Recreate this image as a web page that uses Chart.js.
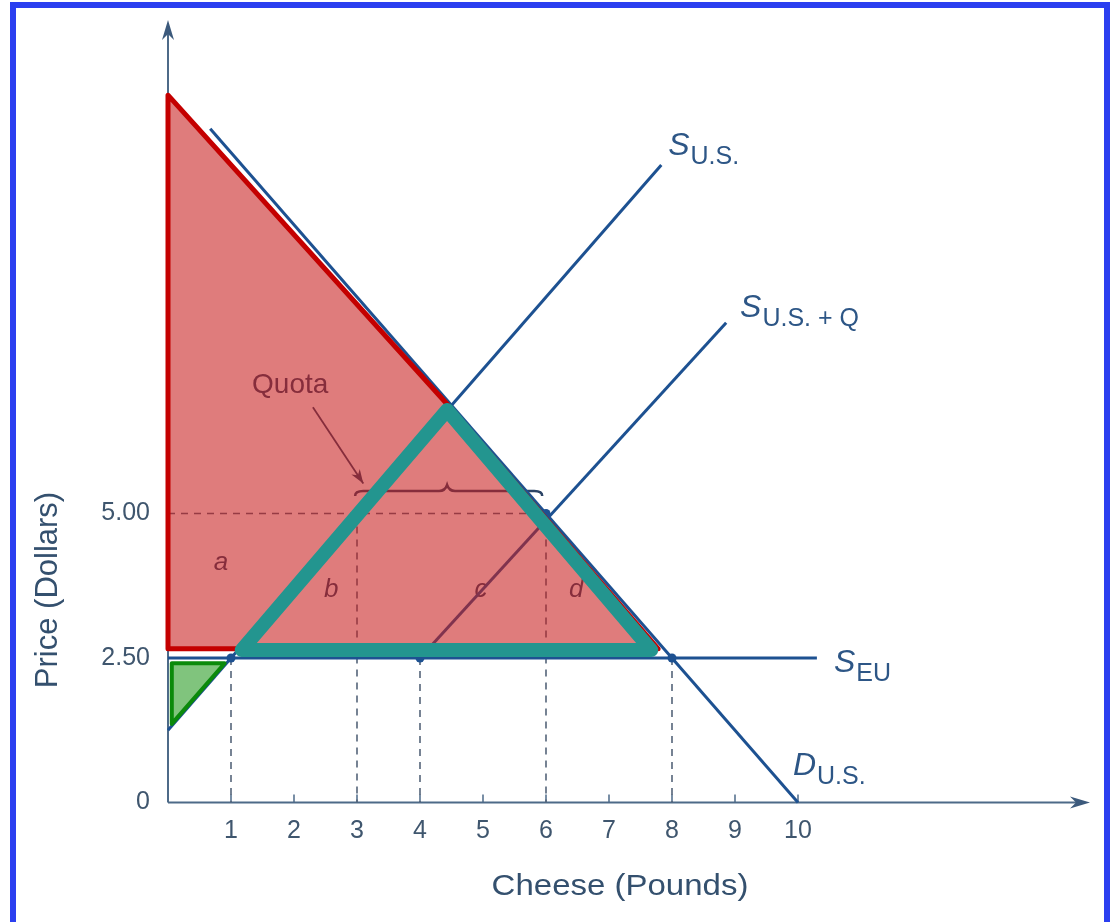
<!DOCTYPE html>
<html>
<head>
<meta charset="utf-8">
<title>Cheese import quota</title>
<script src="https://cdn.jsdelivr.net/npm/chart.js"></script>
<style>
  html, body { margin: 0; padding: 0; background: #fff; }
  canvas { display: block; }
</style>
</head>
<body>
<canvas id="myChart" width="1111" height="922"></canvas>

<script>
// axis ticks
var xTicks = [1, 2, 3, 4, 5, 6, 7, 8, 9, 10];
var xTickLabels = ['1', '2', '3', '4', '5', '6', '7', '8', '9', '10'];
var yTicks = [0, 2.5, 5];
var yTickLabels = ['0', '2.50', '5.00'];

// curves (quantity in pounds, price in dollars)
var demandUS = [{x: 0.67, y: 11.66}, {x: 10, y: 0}];
var supplyUS = [{x: 0, y: 1.25}, {x: 7.83, y: 11.03}];
var supplyUSQ = [{x: 4, y: 2.5}, {x: 8.86, y: 8.3}];
var supplyEU = [{x: 0, y: 2.5}, {x: 10.3, y: 2.5}];
var keyPoints = [{x: 1, y: 2.5}, {x: 4, y: 2.5}, {x: 6, y: 5}, {x: 8, y: 2.5}];

// dashed guides
var guides = [
  [{x: 0, y: 5}, {x: 6, y: 5}],
  [{x: 1, y: 2.5}, {x: 1, y: 0}],
  [{x: 3, y: 5}, {x: 3, y: 0}],
  [{x: 4, y: 2.5}, {x: 4, y: 0}],
  [{x: 6, y: 5}, {x: 6, y: 0}],
  [{x: 8, y: 2.5}, {x: 8, y: 0}]
];

// highlighted areas
var redArea = [{x: 0, y: 12.24}, {x: 0, y: 2.66}, {x: 7.78, y: 2.66}, {x: 4.4, y: 6.93}, {x: 0, y: 12.24}];
var tealTriangle = [{x: 4.43, y: 6.79}, {x: 1.17, y: 2.64}, {x: 7.67, y: 2.64}, {x: 4.43, y: 6.79}];
var greenTriangle = [{x: 0.06, y: 2.41}, {x: 0.06, y: 1.36}, {x: 0.9, y: 2.41}, {x: 0.06, y: 2.41}];

// text
var areaLabels = [
  {t: 'a', x: 0.84, y: 4.14},
  {t: 'b', x: 2.59, y: 3.68},
  {t: 'c', x: 4.97, y: 3.68},
  {t: 'd', x: 6.48, y: 3.68}
];
var curveLabels = [
  {main: 'S', sub: 'U.S.', x: 7.94, y: 11.2},
  {main: 'S', sub: 'U.S. + Q', x: 9.08, y: 8.4},
  {main: 'S', sub: 'EU', x: 10.57, y: 2.26},
  {main: 'D', sub: 'U.S.', x: 9.92, y: 0.48}
];
var quotaText = {t: 'Quota', x: 1.94, y: 7.22};
var quotaArrow = [{x: 2.30, y: 6.84}, {x: 3.10, y: 5.52}];
var quotaBrace = {x1: 2.97, x2: 5.94, xm: 4.43, y: 5.39};

var FONT = '"Liberation Sans", Arial, Helvetica, sans-serif';
var BLUE = '#1d5191';
var TEXT = '#34506e';

Chart.defaults.font.family = FONT;

function line(data, color, width, order) {
    return {
        data: data, showLine: true, fill: false, borderColor: color, borderWidth: width,
        pointRadius: 0, order: order, clip: false,
        borderCapStyle: 'round', borderJoinStyle: 'round'
    };
}

var datasets = [];
var green = line(greenTriangle, '#0b8a0b', 4, 0);
green.fill = 'shape';
green.backgroundColor = '#80c47d';
datasets.push(green);
datasets.push(line(tealTriangle, '#23958f', 14, 1));
var red = line(redArea, '#c40000', 5, 2);
red.fill = 'shape';
red.backgroundColor = 'rgba(200, 30, 30, 0.58)';
red.borderCapStyle = 'butt';
datasets.push(red);
datasets.push({data: keyPoints, showLine: false, pointRadius: 4.5, pointBackgroundColor: BLUE,
    pointBorderWidth: 0, order: 3, clip: false});
[demandUS, supplyUS, supplyUSQ, supplyEU].forEach(function (d) {
    var s = line(d, BLUE, 3, 4);
    s.borderCapStyle = 'butt';
    datasets.push(s);
});
guides.forEach(function (g) {
    var s = line(g, '#55657a', 1.6, 5);
    s.borderDash = [7, 6];
    s.borderCapStyle = 'butt';
    datasets.push(s);
});

function arrowHead(ctx, x0, y0, x1, y1, len, half) {
    var a = Math.atan2(y1 - y0, x1 - x0);
    ctx.beginPath();
    ctx.moveTo(x1, y1);
    ctx.lineTo(x1 - len * Math.cos(a) + half * Math.sin(a), y1 - len * Math.sin(a) - half * Math.cos(a));
    ctx.lineTo(x1 - len * Math.cos(a) * 0.7, y1 - len * Math.sin(a) * 0.7);
    ctx.lineTo(x1 - len * Math.cos(a) - half * Math.sin(a), y1 - len * Math.sin(a) + half * Math.cos(a));
    ctx.closePath();
    ctx.fill();
}

var decor = {
    id: 'decor',
    beforeDatasetsDraw: function (chart) {
        var ctx = chart.ctx, xs = chart.scales.x, ys = chart.scales.y, a = chart.chartArea;
        var x0 = xs.getPixelForValue(0), y0 = ys.getPixelForValue(0);
        ctx.save();
        // axes with arrows
        ctx.strokeStyle = '#4d6a88';
        ctx.fillStyle = '#3c5a7c';
        ctx.lineWidth = 2;
        ctx.beginPath();
        ctx.moveTo(x0, y0); ctx.lineTo(x0, a.top + 10);
        ctx.moveTo(x0, y0); ctx.lineTo(a.right - 10, y0);
        ctx.stroke();
        arrowHead(ctx, x0, y0, x0, a.top, 20, 6);
        arrowHead(ctx, x0, y0, a.right, y0, 20, 6);
        // small tick marks
        ctx.lineWidth = 1.5;
        ctx.beginPath();
        xTicks.forEach(function (v) {
            var p = xs.getPixelForValue(v);
            ctx.moveTo(p, y0); ctx.lineTo(p, y0 - 8);
        });
        ctx.stroke();

        // labels under the red overlay
        ctx.fillStyle = '#2c4466';
        ctx.textAlign = 'center';
        ctx.textBaseline = 'middle';
        ctx.font = 'italic 26px ' + FONT;
        areaLabels.forEach(function (l) {
            ctx.fillText(l.t, xs.getPixelForValue(l.x), ys.getPixelForValue(l.y));
        });
        ctx.font = '28px ' + FONT;
        ctx.fillText(quotaText.t, xs.getPixelForValue(quotaText.x), ys.getPixelForValue(quotaText.y));

        // arrow to the brace
        var ax0 = xs.getPixelForValue(quotaArrow[0].x), ay0 = ys.getPixelForValue(quotaArrow[0].y);
        var ax1 = xs.getPixelForValue(quotaArrow[1].x), ay1 = ys.getPixelForValue(quotaArrow[1].y);
        ctx.strokeStyle = '#2c4466';
        ctx.lineWidth = 1.8;
        ctx.beginPath();
        ctx.moveTo(ax0, ay0); ctx.lineTo(ax1, ay1);
        ctx.stroke();
        arrowHead(ctx, ax0, ay0, ax1, ay1, 14, 5);

        // brace
        var b1 = xs.getPixelForValue(quotaBrace.x1), b2 = xs.getPixelForValue(quotaBrace.x2);
        var bm = xs.getPixelForValue(quotaBrace.xm), by = ys.getPixelForValue(quotaBrace.y);
        ctx.lineWidth = 2.5;
        ctx.beginPath();
        ctx.moveTo(b1, by + 5);
        ctx.quadraticCurveTo(b1, by, b1 + 8, by);
        ctx.lineTo(bm - 8, by);
        ctx.quadraticCurveTo(bm - 2, by, bm, by - 6);
        ctx.quadraticCurveTo(bm + 2, by, bm + 8, by);
        ctx.lineTo(b2 - 8, by);
        ctx.quadraticCurveTo(b2, by, b2, by + 5);
        ctx.stroke();
        ctx.restore();
    },
    afterDatasetsDraw: function (chart) {
        var ctx = chart.ctx, xs = chart.scales.x, ys = chart.scales.y;
        ctx.save();
        ctx.fillStyle = '#2d5686';
        ctx.textBaseline = 'alphabetic';
        ctx.textAlign = 'left';
        curveLabels.forEach(function (l) {
            var lx = xs.getPixelForValue(l.x), ly = ys.getPixelForValue(l.y);
            ctx.font = 'italic 32px ' + FONT;
            ctx.fillText(l.main, lx, ly);
            var w = ctx.measureText(l.main).width;
            ctx.font = '25px ' + FONT;
            ctx.fillText(l.sub, lx + w + 1, ly + 9);
        });

        // axis titles
        ctx.fillStyle = TEXT;
        ctx.textAlign = 'center';
        ctx.textBaseline = 'middle';
        ctx.save();
        ctx.translate(620, 887);
        ctx.scale(1.1, 1);
        ctx.font = '30px ' + FONT;
        ctx.fillText('Cheese (Pounds)', 0, 0);
        ctx.restore();
        ctx.translate(48, 590);
        ctx.rotate(-Math.PI / 2);
        ctx.font = '31px ' + FONT;
        ctx.fillText('Price (Dollars)', 0, 0);
        ctx.restore();

        // blue frame
        ctx.save();
        ctx.strokeStyle = '#2b3ff0';
        ctx.lineWidth = 6;
        ctx.strokeRect(13, 5, 1094, 1000);
        ctx.restore();
    }
};

var ctx = document.getElementById('myChart').getContext('2d');
var myChart = new Chart(ctx, {
    type: 'scatter',
    data: {datasets: datasets},
    options: {
        responsive: false,
        animation: false,
        devicePixelRatio: 1,
        layout: {padding: {left: 18, right: 21, top: 20, bottom: 59.5}},
        plugins: {legend: {display: false}, tooltip: {enabled: false}},
        scales: {
            x: {
                type: 'linear', min: 0, max: 14.635,
                afterBuildTicks: function (s) { s.ticks = xTicks.map(function (v) { return {value: v}; }); },
                afterFit: function (s) { s.height = 60; s.paddingLeft = 0; s.paddingRight = 0; },
                grid: {display: false, drawTicks: false},
                border: {display: false},
                ticks: {
                    autoSkip: false, maxRotation: 0, padding: 14, color: '#3f566e',
                    font: {size: 25},
                    callback: function (v, i) { return xTickLabels[i]; }
                }
            },
            y: {
                type: 'linear', min: 0, max: 13.54,
                afterBuildTicks: function (s) { s.ticks = yTicks.map(function (v) { return {value: v}; }); },
                afterFit: function (s) { s.width = 150; s.paddingTop = 0; s.paddingBottom = 0; },
                grid: {display: false, drawTicks: false},
                border: {display: false},
                ticks: {
                    autoSkip: false, padding: 18, color: '#3f566e',
                    font: {size: 25},
                    callback: function (v, i) { return yTickLabels[i]; }
                }
            }
        }
    },
    plugins: [decor]
});
</script>
</body>
</html>
